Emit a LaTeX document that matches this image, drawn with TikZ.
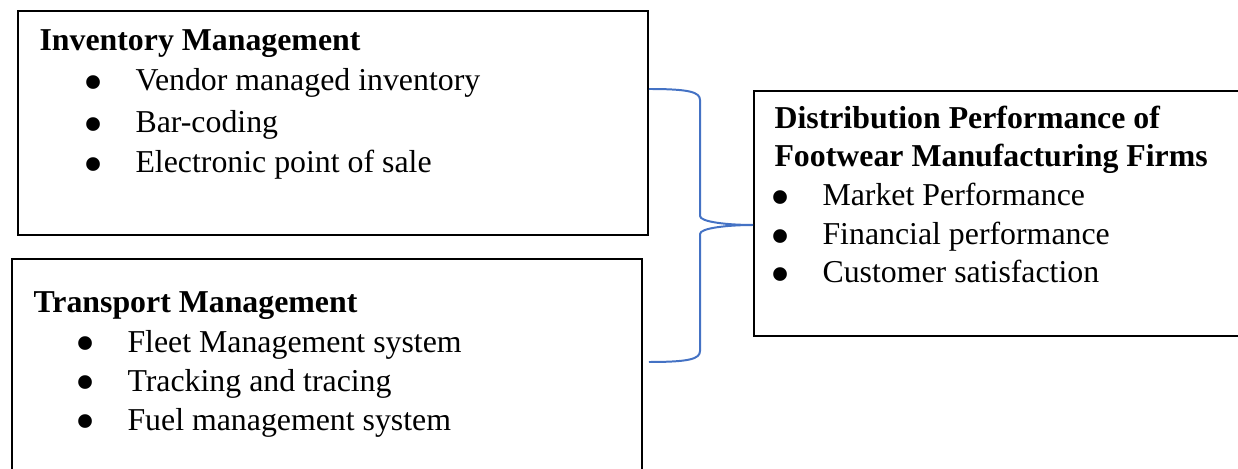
\documentclass[tikz,border=0pt]{standalone}
\usepackage{fontspec}
\setmainfont{Liberation Serif}

\newdimen\pxu \pxu=0.377pt
\definecolor{braceblue}{RGB}{68,114,196}
% bullet hung to the left of the item text
\newcommand{\bul}{\llap{\smash{\raisebox{-4.1pt}{\scalebox{1.8}{\textbullet}}}\hspace{12.1pt}}}

\tikzset{
  box/.style={draw,line width=0.75pt,anchor=north west,inner sep=0pt},
  txt/.style={anchor=base west,inner sep=0pt,font=\fontsize{12}{14}\selectfont},
  head/.style={txt,font=\fontsize{12}{14}\selectfont\bfseries},
  brace/.style={draw=braceblue,line width=0.75pt}
}

\begin{document}
\begin{tikzpicture}[x=0.377pt,y=-0.377pt]
  \useasboundingbox (0,0) rectangle (1238,469);
%  \draw[help lines,step=50] (0,0) grid (1238,469);
    % the three frames
    \path (17,10) node(inv) [box,minimum width=630\pxu,minimum height=224\pxu] {}
    (11,258) node(trn) [box,minimum width=630\pxu,minimum height=260\pxu] {}
    (753,90) node(dist) [box,minimum width=495\pxu,minimum height=245\pxu] {};
    % inventory
    \path (39,51) node(inv-h) [head] {Inventory Management}
    (135,91) node(inv-a) [txt] {\bul Vendor managed inventory}
    (135,133) node(inv-b) [txt] {\bul Bar-coding}
    (135,173) node(inv-c) [txt] {\bul Electronic point of sale};
    % transport
    \path (33,312) node(trn-h) [head] {Transport Management}
    (127,352) node(trn-a) [txt] {\bul Fleet Management system}
    (127,391) node(trn-b) [txt] {\bul Tracking and tracing}
    (127,430) node(trn-c) [txt] {\bul Fuel management system};
    % distribution performance
    \path (774,129) node(dist-h) [head] {Distribution Performance of}
    (774,167) node(dist-g) [head] {Footwear Manufacturing Firms}
    (822,206) node(dist-a) [txt] {\bul Market Performance}
    (822,245) node(dist-b) [txt] {\bul Financial performance}
    (822,283) node(dist-c) [txt] {\bul Customer satisfaction};
    % curly brace joining both frames to the right one
    \draw[brace] (inv.east |- 0,89) .. controls +(40,0) and +(0,-8) .. (700,100)
      -- (700,216) .. controls +(0,6) and +(-25,0) .. (dist.west |- 0,225)
      .. controls +(-25,0) and +(0,-6) .. (700,234)
      -- (700,351) .. controls +(0,8) and +(40,0) .. (inv.east |- 0,362);
  \end{tikzpicture}
\end{document}
